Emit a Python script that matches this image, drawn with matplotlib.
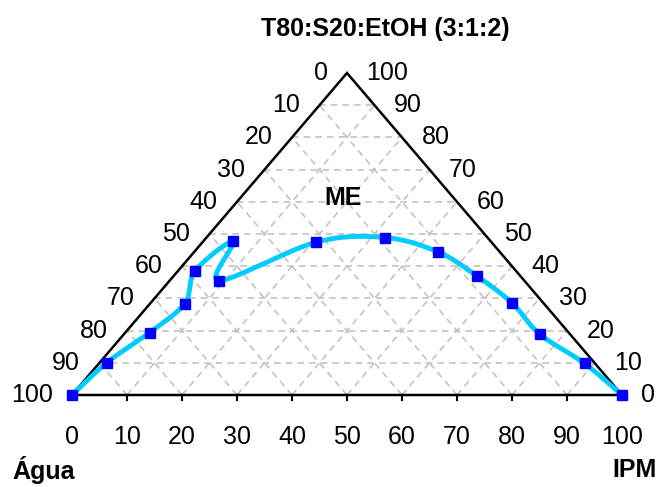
import matplotlib
matplotlib.use("Agg")
import matplotlib.pyplot as plt
import numpy as np

plt.rcParams["font.family"] = ["Liberation Sans", "DejaVu Sans"]

# composition of the boundary points (% w/w)
mistura = [0, 10.0, 19.4, 28.4, 38.6, 47.7, 35.5, 47.5, 48.9, 44.4, 36.9, 28.6, 18.9, 9.8, 0]
ipm = [0, 1.3, 4.4, 6.3, 3.1, 5.5, 9.0, 20.7, 32.5, 44.4, 55.2, 65.7, 75.6, 88.3, 100]
ticks = list(range(0, 101, 10))

title = "T80:S20:EtOH (3:1:2)"
region_label = "ME"
left_name, right_name = "Água", "IPM"


def to_xy(s, o):
    s = np.asarray(s, float)
    o = np.asarray(o, float)
    return o + s / 2.0, s


def smooth(px, py, n=40):
    # uniform Catmull-Rom, same as a spreadsheet "smoothed line"
    pts = np.column_stack([px, py])
    pts = np.vstack([2 * pts[0] - pts[1], pts, 2 * pts[-1] - pts[-2]])
    t = np.linspace(0, 1, n)[:, None]
    out = []
    for i in range(1, len(pts) - 2):
        p0, p1, p2, p3 = pts[i - 1], pts[i], pts[i + 1], pts[i + 2]
        c1 = p1 + (p2 - p0) / 6.0
        c2 = p2 - (p3 - p1) / 6.0
        out.append((1 - t) ** 3 * p1 + 3 * (1 - t) ** 2 * t * c1
                   + 3 * (1 - t) * t ** 2 * c2 + t ** 3 * p2)
    out = np.vstack(out)
    return out[:, 0], out[:, 1]


fig = plt.figure(figsize=(6.58, 4.87), dpi=100)
ax = fig.add_axes([0, 0, 1, 1])
ax.set_xlim(-13.09, 106.55)
ax.set_ylim(-28.57, 122.67)
ax.axis("off")

# grid
grid_kw = dict(color="#c4c4c4", lw=1.2, ls=(0, (4, 3)), zorder=1)
for k in ticks[1:-1]:
    ax.plot([k / 2, 100 - k / 2], [k, k], **grid_kw)
    ax.plot([k, k + (100 - k) / 2], [0, 100 - k], **grid_kw)
    ax.plot([100 - k, (100 - k) / 2], [0, 100 - k], **grid_kw)

# triangle
ax.plot([0, 100, 50, 0], [0, 0, 100, 0], color="black", lw=1.8, zorder=2,
        solid_joinstyle="miter")

# bottom ticks and labels
for k in ticks:
    ax.plot([k, k], [0, -1.5], color="black", lw=1.5, zorder=2)
    ax.text(k, -13.0, str(k), ha="center", va="center", fontsize=18)

# left and right side labels
for k in ticks:
    ax.annotate(str(100 - k), (k / 2, k), xytext=(-14, 0), textcoords="offset points",
                ha="right", va="center", fontsize=18)
    ax.annotate(str(k), (100 - k / 2, k), xytext=(14, 0), textcoords="offset points",
                ha="left", va="center", fontsize=18)

# boundary curve
x, y = to_xy(mistura, ipm)
cx, cy = smooth(x, y)
ax.plot(cx, cy, color="#00ccff", lw=3.5, zorder=3, solid_capstyle="round")
ax.plot(x, y, ls="none", marker="s", ms=6.5, color="#0000ff", zorder=4)

ax.text(49.2, 61.2, region_label, ha="center", va="center", fontsize=18, fontweight="bold")
ax.text(57.0, 113.6, title, ha="center", va="center", fontsize=18, fontweight="bold")
ax.text(-10.8, -23.3, left_name, ha="left", va="center", fontsize=18, fontweight="bold")
ax.text(106.3, -23.3, right_name, ha="right", va="center", fontsize=18, fontweight="bold")

fig.savefig("out.png", dpi=100)
